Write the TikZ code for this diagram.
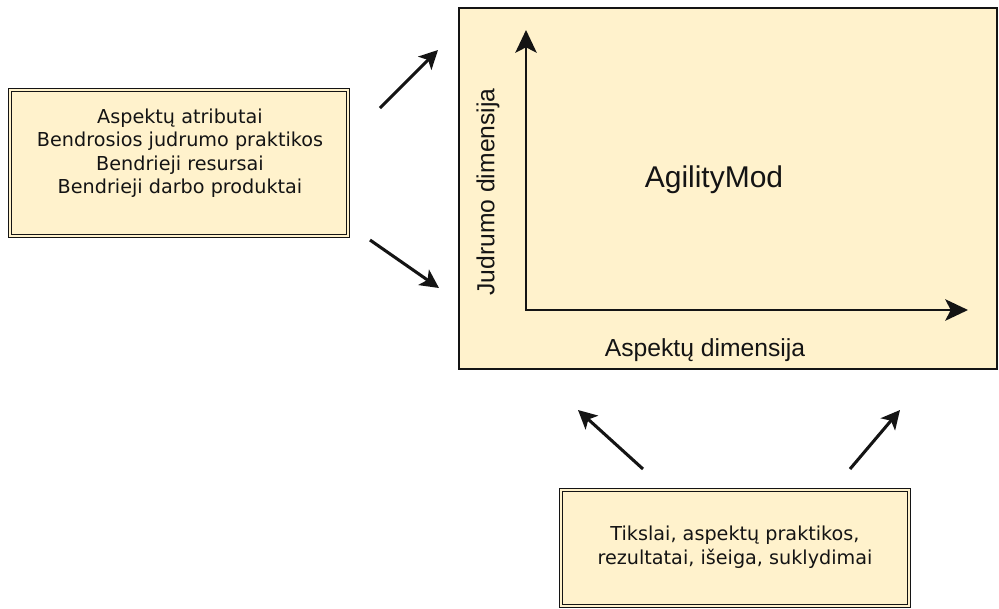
\documentclass[tikz,border=0pt]{standalone}
\usepackage{fontspec}
\setmainfont{Liberation Sans}
\newfontfamily\boxfont{DejaVu Sans}
\usetikzlibrary{arrows.meta}
\definecolor{cream}{HTML}{FFF2CC}
\definecolor{ink}{HTML}{141414}
\tikzset{
  framebox/.style={draw=ink, fill=cream, line width=1.2pt, inner sep=0pt},
  dblbox/.style={draw=ink, double=cream, double distance=1.6pt, line width=1pt, fill=cream, inner sep=0pt},
  boxtext/.style={font=\boxfont\fontsize{14.4}{17.6}\selectfont, text=ink, align=center, inner sep=0pt},
  axislabel/.style={font=\fontsize{18.5}{22}\selectfont, text=ink, inner sep=0pt},
  axis/.style={draw=ink, line width=1.8pt, -{Stealth[length=17pt, width=16pt, inset=4pt]}},
  flow/.style={draw=ink, line width=2.3pt, -{Stealth[length=14pt, width=14pt, inset=3.5pt]}}
}
\begin{document}
\begin{tikzpicture}[x=0.75pt, y=-0.75pt]
\useasboundingbox (0,0) rectangle (999,608);

% central model frame with its two axes
\node[framebox, minimum width=538*0.75pt, minimum height=361*0.75pt] (model) at (728,188.5) {};
\coordinate (origin) at (526,310);
\coordinate (ytop) at (526,30);
\coordinate (xend) at (968,310);
\draw[axis] (origin) -- (ytop);
\draw[axis] ([xshift=-0.9pt]origin) -- (xend);
\node[font=\fontsize{22.5}{26}\selectfont, text=ink, inner sep=0pt] (title) at (714,180) {AgilityMod};
\node[axislabel, rotate=90] (ylab) at (488,192) {Judrumo dimensija};
\node[axislabel] (xlab) at (705,350) {Aspektų dimensija};

% input boxes
\node[dblbox, minimum width=338*0.75pt, minimum height=146*0.75pt] (attrs) at (179,163) {};
\node[boxtext] (attrstext) at (180,153) {Aspektų atributai\\Bendrosios judrumo praktikos\\Bendrieji resursai\\Bendrieji darbo produktai};

\node[dblbox, minimum width=348*0.75pt, minimum height=116*0.75pt] (goals) at (735,548) {};
\node[boxtext] (goalstext) at (735,547) {Tikslai, aspektų praktikos,\\rezultatai, išeiga, suklydimai};

% arrows feeding the model
\coordinate (a1s) at (380,108);
\coordinate (a1e) at (438,50);
\coordinate (a2s) at (370,240);
\coordinate (a2e) at (439,288);
\coordinate (a3s) at (643,469);
\coordinate (a3e) at (578,410);
\coordinate (a4s) at (850,469);
\coordinate (a4e) at (900,410);
\draw[flow] (a1s) -- (a1e);
\draw[flow] (a2s) -- (a2e);
\draw[flow] (a3s) -- (a3e);
\draw[flow] (a4s) -- (a4e);
\end{tikzpicture}
\end{document}
